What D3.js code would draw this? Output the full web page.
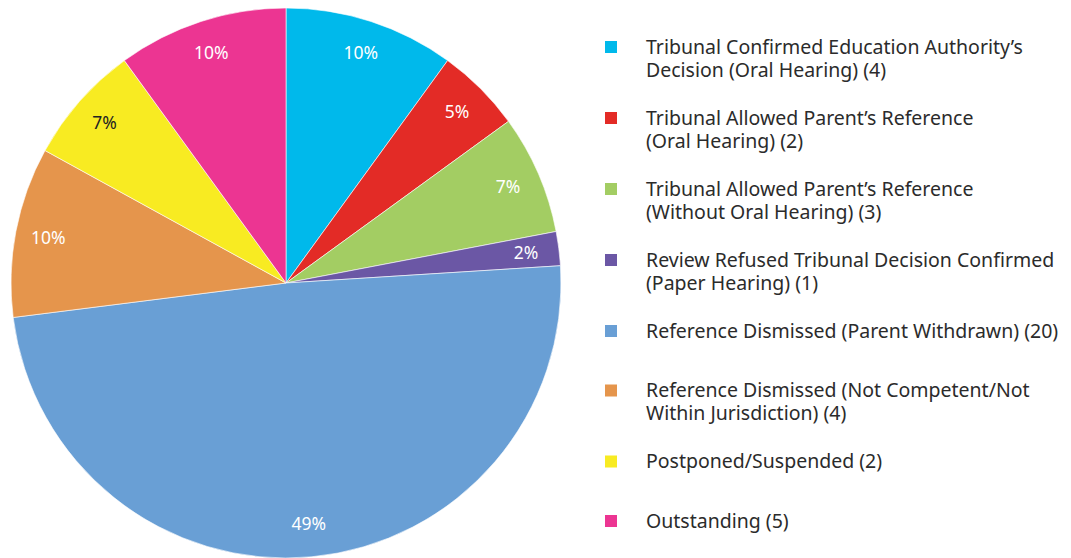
<!DOCTYPE html>
<html lang="en">
<head>
<meta charset="utf-8">
<title>Tribunal outcomes pie</title>
<script src="https://cdn.jsdelivr.net/npm/d3@7"></script>
<style>
  body, html { margin: 0; background: #fff; }
  .lbl { font-family: 'Noto Sans', sans-serif; font-size: 17.5px; text-anchor: middle; }
  .leg { font-family: 'Noto Sans', sans-serif; font-size: 19.5px; fill: #2b2b2b; }
</style>
</head>
<body>
<script>
// categories, counts (legend) and slice shares (%)
var categories = [
  ["Tribunal Confirmed Education Authority\u2019s", "Decision (Oral Hearing) (4)"],
  ["Tribunal Allowed Parent\u2019s Reference", "(Oral Hearing) (2)"],
  ["Tribunal Allowed Parent\u2019s Reference", "(Without Oral Hearing) (3)"],
  ["Review Refused Tribunal Decision Confirmed", "(Paper Hearing) (1)"],
  ["Reference Dismissed (Parent Withdrawn) (20)"],
  ["Reference Dismissed (Not Competent/Not", "Within Jurisdiction) (4)"],
  ["Postponed/Suspended (2)"],
  ["Outstanding (5)"]
];
var counts = [4, 2, 3, 1, 20, 4, 2, 5];
var shares = [10, 5, 7, 2, 49, 10, 7, 10];
var colors = ["#00b9eb", "#e32b26", "#a3cd63", "#6b57a5", "#699fd5", "#e5954c", "#f8eb22", "#ec3592"];
var labelColors = ["#fff", "#fff", "#fff", "#fff", "#fff", "#fff", "#222", "#fff"];

var w = 1071, h = 558;
var cx = 286, cy = 283, r = 275;

var svg = d3.select("body").append("svg")
  .attr("width", w).attr("height", h);

var pie = d3.pie().sort(null).value(function(d) { return d; });
var arcs = pie(shares);
var arc = d3.arc().innerRadius(0).outerRadius(r);
var labelArc = d3.arc().innerRadius(242).outerRadius(242);

var g = svg.append("g").attr("transform", "translate(" + cx + "," + cy + ")");

g.selectAll("path")
  .data(arcs)
  .enter()
  .append("path")
  .attr("d", arc)
  .attr("fill", function(d, i) { return colors[i]; })
  .attr("stroke", "#fff")
  .attr("stroke-width", 0.6);

g.selectAll(".lbl")
  .data(arcs)
  .enter()
  .append("text")
  .attr("class", "lbl")
  .attr("transform", function(d) { return "translate(" + labelArc.centroid(d) + ")"; })
  .attr("dy", "0.35em")
  .attr("fill", function(d, i) { return labelColors[i]; })
  .text(function(d) { return d.data + "%"; });

// legend: two-line items take more room than one-line items
var lineH = 23;
var ys = [];
var y = 47;
categories.forEach(function(c) {
  ys.push(y);
  y += 48 + c.length * 11.5;
});

var leg = svg.append("g");
var item = leg.selectAll("g")
  .data(categories)
  .enter()
  .append("g")
  .attr("transform", function(d, i) { return "translate(0," + ys[i] + ")"; });

item.append("rect")
  .attr("x", 605).attr("y", -6)
  .attr("width", 12).attr("height", 12)
  .attr("fill", function(d, i) { return colors[i]; });

item.append("text")
  .attr("class", "leg")
  .attr("x", 646)
  .selectAll("tspan")
  .data(function(d) { return d; })
  .enter()
  .append("tspan")
  .attr("x", 646)
  .attr("y", function(d, j) { return j * lineH; })
  .attr("dy", "0.35em")
  .text(function(d) { return d; });
</script>
</body>
</html>
